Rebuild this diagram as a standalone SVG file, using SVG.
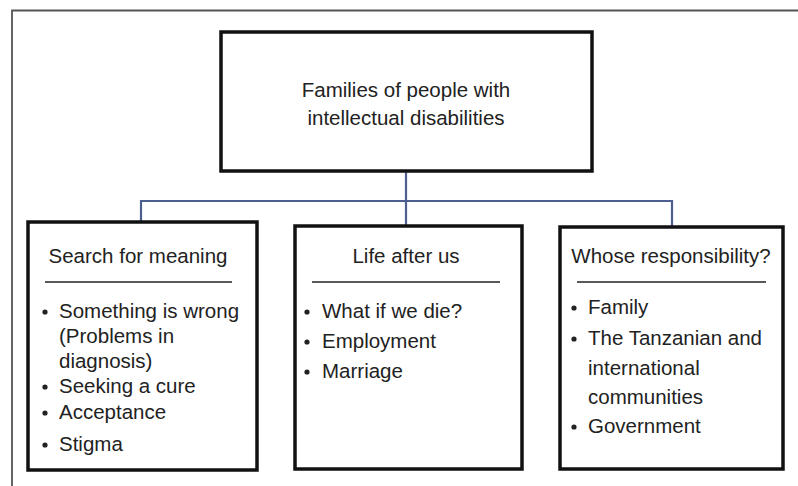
<svg xmlns="http://www.w3.org/2000/svg" width="798" height="486" viewBox="0 0 798 486">
<style>
.box{fill:#fff;stroke:#111;stroke-width:3.5}
.t{font-family:"Liberation Sans",Arial,sans-serif;font-size:20.5px;fill:#222}
.c{text-anchor:middle}
.rule{stroke:#222;stroke-width:1.5}
.conn{fill:none;stroke:#4d5f8f;stroke-width:2.2}
.dot{fill:#222}
</style>
<rect x="0" y="0" width="798" height="486" fill="#fff"/>
<path d="M12,486 V10.5 H798" fill="none" stroke="#555" stroke-width="1.8"/>
<g id="connectors">
<path class="conn" d="M406,171 V226 M141,222 V201 H672 V227"/>
</g>
<g id="root">
<rect class="box" x="221" y="32" width="371" height="139"/>
<text class="t c" x="406" y="97">Families of people with</text>
<text class="t c" x="406" y="125">intellectual disabilities</text>
</g>
<g id="meaning">
<rect class="box" x="28" y="222" width="229" height="248"/>
<text class="t c" x="138" y="263">Search for meaning</text>
<line class="rule" x1="45" y1="282" x2="232" y2="282"/>
<circle class="dot" cx="45" cy="312" r="2.6"/>
<circle class="dot" cx="45" cy="387" r="2.6"/>
<circle class="dot" cx="45" cy="413" r="2.6"/>
<circle class="dot" cx="45" cy="445" r="2.6"/>
<text class="t" x="59" y="318">Something is wrong</text>
<text class="t" x="59" y="343">(Problems in</text>
<text class="t" x="59" y="368">diagnosis)</text>
<text class="t" x="59" y="393">Seeking a cure</text>
<text class="t" x="59" y="419">Acceptance</text>
<text class="t" x="59" y="451">Stigma</text>
</g>
<g id="after">
<rect class="box" x="295" y="226" width="227" height="243"/>
<text class="t c" x="406" y="263">Life after us</text>
<line class="rule" x1="312" y1="282" x2="500" y2="282"/>
<circle class="dot" cx="307" cy="312" r="2.6"/>
<circle class="dot" cx="307" cy="342" r="2.6"/>
<circle class="dot" cx="307" cy="372" r="2.6"/>
<text class="t" x="322" y="318">What if we die?</text>
<text class="t" x="322" y="348">Employment</text>
<text class="t" x="322" y="378">Marriage</text>
</g>
<g id="responsibility">
<rect class="box" x="560" y="227" width="223" height="242"/>
<text class="t c" x="671" y="263">Whose responsibility?</text>
<line class="rule" x1="577" y1="282" x2="766" y2="282"/>
<circle class="dot" cx="574" cy="308" r="2.6"/>
<circle class="dot" cx="574" cy="339" r="2.6"/>
<circle class="dot" cx="574" cy="427" r="2.6"/>
<text class="t" x="588" y="314">Family</text>
<text class="t" x="588" y="345">The Tanzanian and</text>
<text class="t" x="588" y="375">international</text>
<text class="t" x="588" y="404">communities</text>
<text class="t" x="588" y="433">Government</text>
</g>
</svg>
